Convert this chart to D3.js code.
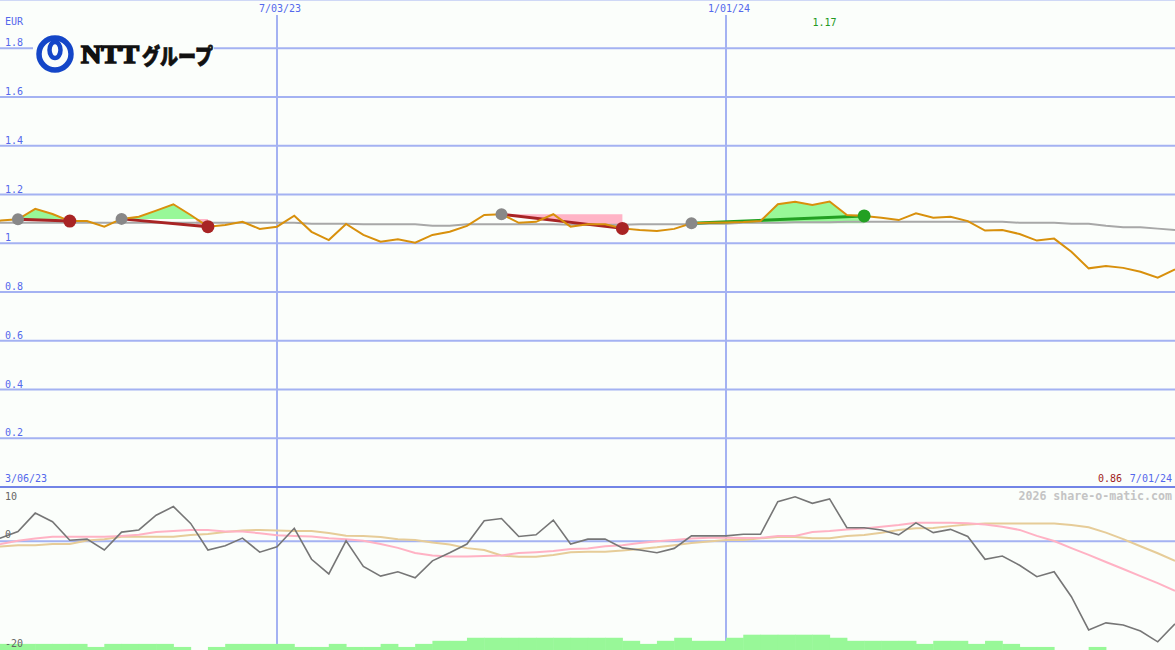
<!DOCTYPE html>
<html>
<head>
<meta charset="utf-8">
<script src="https://cdn.jsdelivr.net/npm/d3@7"></script>
<style>
  body { margin: 0; background: #fbfefb; }
  svg { display: block; }
  text { font-family: "DejaVu Sans Mono", monospace; }
</style>
</head>
<body>
<div id="chart"></div>
<script>
// weekly series, first monday 2023-03-06 .. 2024-07-01
const firstWeek = "2023-03-06", lastWeek = "2024-07-01";

const price = [
  1.085, 1.093, 1.098, 1.141, 1.120, 1.091, 1.091, 1.068, 1.100, 1.109,
  1.134, 1.160, 1.116, 1.068, 1.075, 1.088, 1.059, 1.068, 1.113, 1.047,
  1.013, 1.079, 1.034, 1.006, 1.016, 1.002, 1.034, 1.047, 1.071, 1.116,
  1.119, 1.084, 1.088, 1.119, 1.068, 1.078, 1.078, 1.061, 1.054, 1.050,
  1.059, 1.082, 1.084, 1.085, 1.087, 1.091, 1.160, 1.170, 1.157, 1.171,
  1.116, 1.112, 1.105, 1.095, 1.123, 1.105, 1.109, 1.091, 1.052, 1.054,
  1.038, 1.011, 1.019, 0.965, 0.897, 0.907, 0.899, 0.883, 0.859, 0.893
];
const priceAvg = [
  1.084, 1.084, 1.084, 1.084, 1.084, 1.084, 1.084, 1.084, 1.084, 1.084,
  1.084, 1.084, 1.084, 1.084, 1.084, 1.084, 1.084, 1.084, 1.084, 1.080,
  1.080, 1.080, 1.078, 1.078, 1.078, 1.078, 1.072, 1.072, 1.078, 1.078,
  1.078, 1.078, 1.078, 1.078, 1.076, 1.076, 1.076, 1.076, 1.078, 1.078,
  1.078, 1.078, 1.080, 1.080, 1.084, 1.084, 1.084, 1.086, 1.086, 1.086,
  1.088, 1.088, 1.088, 1.088, 1.088, 1.088, 1.088, 1.088, 1.088, 1.088,
  1.084, 1.084, 1.084, 1.080, 1.080, 1.072, 1.066, 1.066, 1.060, 1.054
];
const momentum = [
  0.2, 0.6, 1.8, 5.2, 3.6, 0.2, 0.4, -1.6, 1.7, 2.1,
  4.8, 6.4, 3.3, -1.6, -0.8, 0.6, -2.0, -1.0, 2.4, -3.3,
  -6.0, 0.1, -4.6, -6.4, -5.6, -6.7, -3.6, -2.1, -0.5, 3.8,
  4.2, 0.9, 1.2, 3.9, -0.5, 0.4, 0.4, -1.2, -1.6, -2.1,
  -1.3, 1.0, 1.0, 1.0, 1.3, 1.3, 7.3, 8.2, 7.0, 7.8,
  2.5, 2.5, 2.1, 1.2, 3.4, 1.6, 2.2, 0.9, -3.3, -2.7,
  -4.4, -6.5, -5.6, -10.2, -16.3, -15.0, -15.4, -16.5, -18.5, -15.2
];
const momentumFast = [
  -0.9, -0.5, 0.1, 0.5, 0.85, 0.85, 0.85, 0.85, 1.0, 1.2,
  1.7, 1.9, 2.1, 2.1, 1.8, 1.8, 1.5, 1.1, 1.0, 0.9,
  0.55, 0.4, 0.1, -0.5, -1.2, -2.15, -2.6, -2.8, -2.8, -2.7,
  -2.6, -2.15, -2.0, -1.8, -1.4, -1.3, -0.9, -0.7, -0.3, 0.0,
  0.25, 0.5, 0.65, 0.65, 0.6, 0.65, 1.0, 1.0, 1.7, 1.9,
  2.2, 2.35, 2.7, 3.0, 3.4, 3.4, 3.4, 3.35, 3.1, 2.7,
  2.1, 1.0, 0.05, -1.25, -2.5, -3.8, -5.1, -6.4, -7.7, -9.1
];
const momentumSlow = [
  -1.05, -0.95, -0.7, -0.7, -0.5, -0.5, 0.15, 0.4, 0.85, 0.85,
  0.85, 0.85, 1.15, 1.35, 1.7, 2.0, 2.1, 2.0, 1.9, 1.9,
  1.55, 1.05, 1.0, 0.8, 0.4, 0.25, -0.2, -0.6, -1.25, -1.6,
  -2.6, -2.85, -2.85, -2.5, -2.0, -1.9, -1.9, -1.7, -1.4, -1.1,
  -0.7, -0.3, -0.05, 0.25, 0.25, 0.55, 0.8, 0.8, 0.55, 0.55,
  1.0, 1.15, 1.6, 2.1, 2.4, 2.45, 2.8, 3.1, 3.3, 3.3,
  3.3, 3.3, 3.3, 3.0, 2.6, 1.6, 0.4, -0.9, -2.2, -3.6
];
const volume = [
  2, 2, 2, 2, 2, 2, 1, 2, 2, 2,
  2, 1, 0, 1, 2, 2, 2, 2, 1, 1,
  2, 1, 1, 2, 1, 2, 3, 3, 4, 4,
  4, 4, 4, 4, 4, 4, 4, 3, 2, 3,
  4, 3, 3, 4, 5, 5, 5, 5, 5, 4,
  3, 3, 3, 3, 2, 3, 3, 2, 3, 2,
  1, 1, 0, 0, 1, 0, 0, 0, 0, 0
];
const trades = [
  {entry: "2023-03-20", exit: "2023-04-10"},
  {entry: "2023-05-01", exit: "2023-06-05"},
  {entry: "2023-10-02", exit: "2023-11-20"},
  {entry: "2023-12-18", exit: "2024-02-26"}
];
const priceTicks = [0.2, 0.4, 0.6, 0.8, 1, 1.2, 1.4, 1.6, 1.8];
const momentumTicks = [10, 0, -20];
const dateTicks = ["2023-07-03", "2024-01-01"];

const width = 1175, height = 650;
const parse = d3.utcParse("%Y-%m-%d");
const fmtDate = d3.utcFormat("%-m/%d/%y");
const weeks = d3.utcMonday.range(parse(firstWeek), d3.utcDay.offset(parse(lastWeek), 1));
const idx = s => weeks.findIndex(w => +w === +parse(s));

const svg = d3.select("#chart").append("svg")
  .attr("width", width)
  .attr("height", height);

svg.append("rect").attr("width", width).attr("height", height).attr("fill", "#fbfefb");

const x = d3.scaleUtc()
  .domain([parse(dateTicks[0]), parse(dateTicks[1])])
  .range([277, 726]);

const y = d3.scaleLinear().domain([0, 2]).range([487, -0.5]);
const ym = d3.scaleLinear().domain([-20, 10]).range([650, 487]);
const yv = d3.scaleLinear().domain([0, 5]).range([650, 634.7]);

const grid = "#a4b2f2", blue = "#5468ec";

// gridlines
svg.selectAll(".hgrid")
  .data(priceTicks.concat([2]))
  .enter().append("line")
  .attr("x1", 0).attr("x2", width)
  .attr("y1", d => y(d)).attr("y2", d => y(d))
  .attr("stroke", grid).attr("stroke-width", 2);

svg.selectAll(".vgrid")
  .data(dateTicks)
  .enter().append("line")
  .attr("x1", d => x(parse(d))).attr("x2", d => x(parse(d)))
  .attr("y1", 15).attr("y2", height)
  .attr("stroke", grid).attr("stroke-width", 2);

svg.append("line")
  .attr("x1", 0).attr("x2", width)
  .attr("y1", ym(0)).attr("y2", ym(0))
  .attr("stroke", grid).attr("stroke-width", 2);

svg.append("line")
  .attr("x1", 0).attr("x2", width)
  .attr("y1", y(0)).attr("y2", y(0))
  .attr("stroke", "#7284e6").attr("stroke-width", 2);

// volume
svg.selectAll(".vol")
  .data(volume)
  .enter().append("rect")
  .attr("x", (d, i) => x(weeks[i]))
  .attr("width", (d, i) => x(d3.utcDay.offset(weeks[i], 7)) - x(weeks[i]) + 0.5)
  .attr("y", d => yv(d))
  .attr("height", d => yv(0) - yv(d))
  .attr("fill", "#98f898");

// trade fills
function tradePoints(t) {
  const i0 = idx(t.entry), i1 = idx(t.exit);
  const e = price[i0];
  const t0 = +weeks[i0], t1 = +weeks[i1];
  const lineAt = d => price[i0] + (price[i1] - price[i0]) * (d - t0) / (t1 - t0);
  const pts = [];
  for (let i = i0; i <= i1; i++) {
    if (i > i0) {
      const a = price[i - 1] - e, b = price[i] - e;
      if (a * b < 0) {
        const f = a / (a - b);
        pts.push({date: new Date(+weeks[i - 1] + f * (weeks[i] - weeks[i - 1])), p: e});
      }
    }
    pts.push({date: weeks[i], p: price[i]});
  }
  pts.forEach(q => q.line = lineAt(+q.date));
  return {i0, i1, e, pts, win: price[i1] > e};
}
const tradeData = trades.map(tradePoints);

tradeData.forEach(t => {
  svg.append("path")
    .datum(t.pts)
    .attr("fill", "#98f898")
    .attr("d", d3.area()
      .x(d => x(d.date))
      .y0(y(t.e))
      .y1(d => y(Math.max(d.p, t.e))));
  svg.append("path")
    .datum(t.pts)
    .attr("fill", "#ffb4c6")
    .attr("d", d3.area()
      .defined(d => d.p <= t.e)
      .x(d => x(d.date))
      .y0(y(t.e))
      .y1(d => y(Math.min(d.line, t.e))));
});

// price average
svg.append("path")
  .datum(priceAvg)
  .attr("fill", "none")
  .attr("stroke", "#a8a8a8")
  .attr("stroke-width", 2)
  .attr("d", d3.line().x((d, i) => x(weeks[i])).y(d => y(d)));

// trade lines
tradeData.forEach(t => {
  svg.append("line")
    .attr("x1", x(weeks[t.i0])).attr("y1", y(price[t.i0]))
    .attr("x2", x(weeks[t.i1])).attr("y2", y(price[t.i1]))
    .attr("stroke", t.win ? "#22a022" : "#a82424")
    .attr("stroke-width", 3);
});

// price
svg.append("path")
  .datum(price)
  .attr("fill", "none")
  .attr("stroke", "#d8900c")
  .attr("stroke-width", 2)
  .attr("d", d3.line().x((d, i) => x(weeks[i])).y(d => y(d)));

// markers
tradeData.forEach(t => {
  svg.append("circle")
    .attr("cx", x(weeks[t.i0])).attr("cy", y(price[t.i0]))
    .attr("r", 6).attr("fill", "#888888");
  svg.append("circle")
    .attr("cx", x(weeks[t.i1])).attr("cy", y(price[t.i1]))
    .attr("r", 6.5).attr("fill", t.win ? "#22a022" : "#a82424");
});

// momentum panel
const mline = d3.line().x((d, i) => x(weeks[i])).y(d => ym(d));
svg.append("path").datum(momentumSlow)
  .attr("fill", "none").attr("stroke", "#e6cc98").attr("stroke-width", 2)
  .attr("d", mline);
svg.append("path").datum(momentumFast)
  .attr("fill", "none").attr("stroke", "#ffb2c4").attr("stroke-width", 2)
  .attr("d", mline);
svg.append("path").datum(momentum)
  .attr("fill", "none").attr("stroke", "#767676").attr("stroke-width", 1.6)
  .attr("d", mline);

// labels
svg.append("text").attr("x", 5).attr("y", 25)
  .attr("font-size", 10).attr("fill", blue).text("EUR");

svg.selectAll(".plabel")
  .data(priceTicks)
  .enter().append("text")
  .attr("x", 5).attr("y", d => y(d) - 2)
  .attr("font-size", 10).attr("fill", blue)
  .text(d => String(d));

svg.selectAll(".mlabel")
  .data(momentumTicks)
  .enter().append("text")
  .attr("x", 5)
  .attr("y", d => d === d3.max(momentumTicks) ? ym(d) + 13 : ym(d) - 3)
  .attr("font-size", 10).attr("fill", "#666666")
  .text(d => String(d));

svg.selectAll(".dlabel")
  .data(dateTicks)
  .enter().append("text")
  .attr("x", d => x(parse(d)) + 3).attr("y", 12)
  .attr("text-anchor", "middle")
  .attr("font-size", 10).attr("fill", blue)
  .text(d => fmtDate(parse(d)));

svg.append("text").attr("x", 5).attr("y", 482)
  .attr("font-size", 10).attr("fill", blue)
  .text(fmtDate(weeks[0]));
svg.append("text").attr("x", 1172).attr("y", 482)
  .attr("text-anchor", "end")
  .attr("font-size", 10).attr("fill", blue)
  .text(fmtDate(weeks[weeks.length - 1]));

const hi = d3.maxIndex(price), lo = d3.minIndex(price);
svg.append("text").attr("x", x(weeks[hi]) - 5).attr("y", 26)
  .attr("text-anchor", "middle")
  .attr("font-size", 10).attr("fill", "#229922")
  .text(d3.format(".2f")(price[hi]));
svg.append("text").attr("x", 1122).attr("y", 482)
  .attr("text-anchor", "end")
  .attr("font-size", 10).attr("fill", "#a01c1c")
  .text(d3.format(".2f")(price[lo]));

svg.append("text").attr("x", 1172).attr("y", 500)
  .attr("text-anchor", "end")
  .attr("font-size", 11.6).attr("font-weight", "bold").attr("fill", "#c4c4c4")
  .text("2026 share-o-matic.com");

// logo
const logo = svg.append("g");
logo.append("rect").attr("x", 33).attr("y", 32).attr("width", 181).attr("height", 44)
  .attr("fill", "#fbfefb");
logo.append("circle").attr("cx", 55).attr("cy", 54).attr("r", 16)
  .attr("fill", "none").attr("stroke", "#1446c8").attr("stroke-width", 5.5);
logo.append("ellipse").attr("cx", 55).attr("cy", 50).attr("rx", 5.5).attr("ry", 8)
  .attr("fill", "none").attr("stroke", "#1446c8").attr("stroke-width", 4.5);
logo.append("text").attr("x", 81).attr("y", 63)
  .attr("textLength", 58).attr("lengthAdjust", "spacingAndGlyphs")
  .style("font-family", "'Liberation Serif', serif")
  .attr("font-size", 25).attr("font-weight", 900).attr("fill", "#111")
  .attr("stroke", "#111").attr("stroke-width", 1.6)
  .text("NTT");
logo.append("text").attr("x", 142).attr("y", 64)
  .attr("textLength", 71).attr("lengthAdjust", "spacingAndGlyphs")
  .style("font-family", "'Noto Sans CJK JP', sans-serif")
  .attr("font-size", 22).attr("font-weight", 900).attr("fill", "#111")
  .attr("stroke", "#111").attr("stroke-width", 0.8)
  .text("グループ");
</script>
</body>
</html>
